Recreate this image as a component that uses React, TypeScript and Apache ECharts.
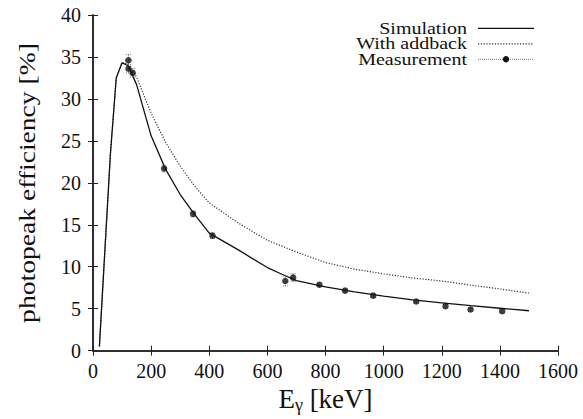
import React, { useEffect, useRef } from "react";
import * as echarts from "echarts";

const simE = [22, 60, 80, 100, 120, 150, 200, 250, 300, 350, 400, 500, 600, 650, 700, 800, 900, 1000, 1100, 1200, 1300, 1400, 1500];
const simEff = [0.5, 23.5, 32.5, 34.3, 34.0, 31.7, 25.6, 21.6, 18.6, 16.2, 14.0, 12.0, 9.9, 9.1, 8.35, 7.6, 7.0, 6.5, 6.05, 5.7, 5.35, 5.05, 4.75];

const addE = [22, 60, 80, 100, 120, 150, 200, 250, 300, 350, 400, 500, 600, 700, 800, 900, 1000, 1100, 1200, 1300, 1400, 1500];
const addEff = [0.5, 23.5, 32.5, 34.3, 34.2, 32.6, 28.3, 24.8, 22.0, 19.6, 17.6, 15.2, 13.15, 11.75, 10.5, 9.7, 9.15, 8.65, 8.3, 7.8, 7.35, 6.85];

const measE = [121.8, 122.1, 136.5, 244.7, 344.3, 411.1, 661.7, 688.7, 778.9, 867.4, 964.1, 1112.1, 1212.9, 1299.1, 1408.0];
const measEff = [34.6, 33.6, 33.1, 21.7, 16.3, 13.7, 8.3, 8.7, 7.85, 7.15, 6.55, 5.85, 5.3, 4.9, 4.7];
const measErr = [0.7, 0.5, 0.5, 0.4, 0.35, 0.3, 0.6, 0.45, 0.25, 0.2, 0.2, 0.2, 0.2, 0.2, 0.2];

const legendNames = ["Simulation", "With addback", "Measurement"];
const yTitle = "photopeak efficiency [%]";

const FONT = "serif";
const AXIS_COLOR = "#222";

export default function App() {
  const ref = useRef<HTMLDivElement>(null);
  useEffect(() => {
    if (!ref.current) return;
    const chart = echarts.init(ref.current, undefined, { renderer: "svg" });
    const sim = simE.map((e, i) => [e, simEff[i]]);
    const add = addE.map((e, i) => [e, addEff[i]]);
    const meas = measE.map((e, i) => [e, measEff[i]]);
    const errs = measE.map((e, i) => [e, measEff[i] - measErr[i], measEff[i] + measErr[i]]);

    const lx0 = 478, lx1 = 534, ltx = 467;
    const rows = [28.3, 43.8, 59.3];

    const axisCommon = {
      min: 0,
      axisLine: { show: true, lineStyle: { color: AXIS_COLOR, width: 1.5 } },
      axisTick: { show: true, inside: true, length: 5, lineStyle: { color: AXIS_COLOR, width: 1 } },
      splitLine: { show: false },
    };
    const fmt = (v: number) => String(v);
    const legendText = (t: string, y: number) => ({
      type: "text",
      x: ltx,
      y,
      scaleX: 1.25,
      style: {
        text: t,
        fill: "#111",
        fontFamily: FONT,
        fontSize: 16,
        align: "right",
        verticalAlign: "middle",
      },
    });

    chart.setOption({
      animation: false,
      backgroundColor: "#fff",
      grid: { left: 93, right: 25, top: 15, bottom: 68, containLabel: false },
      xAxis: [
        {
          ...axisCommon,
          type: "value",
          max: 1600,
          interval: 200,
          position: "bottom",
          axisLabel: { color: "#111", fontSize: 20, fontFamily: FONT, margin: 10, formatter: fmt },
          name: "{e|E}{g|γ}{e| [keV]}",
          nameLocation: "middle",
          nameGap: 29,
          nameTextStyle: {
            fontFamily: FONT,
            fontSize: 27,
            color: "#111",
            rich: {
              e: { fontFamily: FONT, fontSize: 27, color: "#111", lineHeight: 30, verticalAlign: "middle" },
              g: { fontFamily: FONT, fontSize: 18, color: "#111", lineHeight: 30, verticalAlign: "bottom" },
            },
          },
        },
        {
          ...axisCommon,
          type: "value",
          max: 1600,
          interval: 200,
          position: "top",
          axisLabel: { show: false },
        },
      ],
      yAxis: [
        {
          ...axisCommon,
          type: "value",
          max: 40,
          interval: 5,
          position: "left",
          axisLabel: { color: "#111", fontSize: 20, fontFamily: FONT, margin: 12, formatter: fmt },
        },
        {
          ...axisCommon,
          type: "value",
          max: 40,
          interval: 5,
          position: "right",
          axisLabel: { show: false },
        },
      ],
      series: [
        {
          name: legendNames[0],
          type: "line",
          data: sim,
          symbol: "none",
          lineStyle: { color: "#111", width: 1.3 },
          z: 3,
        },
        {
          name: legendNames[1],
          type: "line",
          data: add,
          symbol: "none",
          lineStyle: { color: "#333", width: 1.2, type: [1.2, 1.6] },
          z: 2,
        },
        {
          name: legendNames[2] + " error",
          type: "custom",
          data: errs,
          renderItem: (params: any, api: any) => {
            const x = api.value(0);
            const lo = api.coord([x, api.value(1)]);
            const hi = api.coord([x, api.value(2)]);
            const cap = 2.5;
            const style = { stroke: "#777", lineWidth: 1, lineDash: [1, 1] };
            return {
              type: "group",
              children: [
                { type: "line", shape: { x1: lo[0], y1: lo[1], x2: hi[0], y2: hi[1] }, style },
                { type: "line", shape: { x1: lo[0] - cap, y1: lo[1], x2: lo[0] + cap, y2: lo[1] }, style },
                { type: "line", shape: { x1: hi[0] - cap, y1: hi[1], x2: hi[0] + cap, y2: hi[1] }, style },
              ],
            };
          },
          z: 4,
        },
        {
          name: legendNames[2],
          type: "scatter",
          data: meas,
          symbol: "circle",
          symbolSize: 6.5,
          itemStyle: { color: "#111" },
          z: 5,
        },
      ],
      graphic: [
        {
          type: "text",
          x: 27,
          y: 183,
          rotation: Math.PI / 2,
          scaleX: 1.2,
          style: {
            text: yTitle,
            fill: "#111",
            fontFamily: FONT,
            fontSize: 23,
            align: "center",
            verticalAlign: "middle",
          },
        },
        legendText(legendNames[0], rows[0]),
        { type: "line", shape: { x1: lx0, y1: rows[0], x2: lx1, y2: rows[0] }, style: { stroke: "#111", lineWidth: 1.3 } },
        legendText(legendNames[1], rows[1]),
        { type: "line", shape: { x1: lx0, y1: rows[1], x2: lx1, y2: rows[1] }, style: { stroke: "#333", lineWidth: 1.2, lineDash: [1.2, 1.6] } },
        legendText(legendNames[2], rows[2]),
        { type: "line", shape: { x1: lx0, y1: rows[2], x2: lx1, y2: rows[2] }, style: { stroke: "#777", lineWidth: 1, lineDash: [1, 1] } },
        { type: "circle", shape: { cx: 506, cy: rows[2], r: 3.2 }, style: { fill: "#111" } },
      ],
    });
    return () => chart.dispose();
  }, []);
  return <div ref={ref} style={{ width: 583, height: 419, position: "absolute", left: 0, top: 0 }} />;
}
